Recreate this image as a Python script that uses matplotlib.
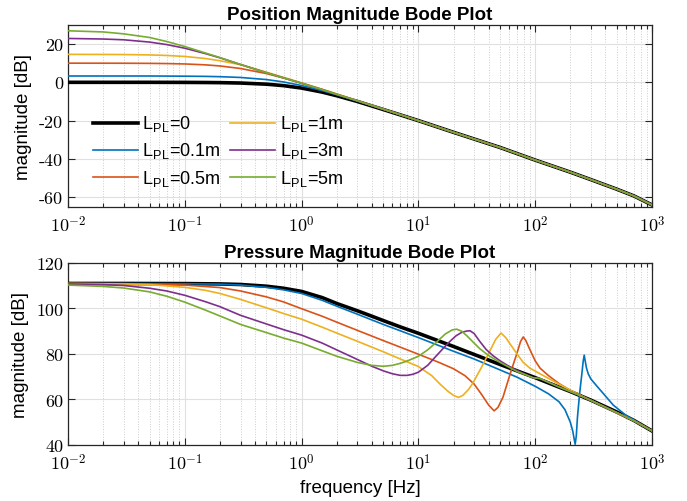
import numpy as np
import matplotlib
matplotlib.use('Agg')
import matplotlib.pyplot as plt
from matplotlib.ticker import FixedLocator, FixedFormatter, LogLocator, NullFormatter

plt.rcParams['font.family'] = ['Liberation Sans', 'DejaVu Sans']
plt.rcParams['mathtext.fontset'] = 'cm'

# ---- data ----
labels = ['0', '0.1m', '0.5m', '1m', '3m', '5m']
colors = ['#000000', '#0072BD', '#D95319', '#EDB120', '#7E2F8E', '#77AC30']

# position magnitude [dB], common frequency grid [Hz]
pos_freq = [0.01, 0.02, 0.03, 0.05, 0.07, 0.1, 0.15, 0.2, 0.3, 0.5, 0.7, 1, 1.5, 2, 3, 5, 7,
            10, 20, 50, 100, 200, 300, 500, 700, 1000]
pos_tail = [-20.0, -26.1, -34.0, -40.6, -46.9, -50.8, -55.8, -59.3, -64.0]
pos_L0 = [0.0, 0.0, 0.0, 0.0, -0.02, -0.04, -0.1, -0.17, -0.37, -0.97, -1.73, -3.0, -5.1, -7.0,
          -10.0, -14.2, -17.0] + pos_tail
pos_L01 = [3.3, 3.3, 3.3, 3.3, 3.25, 3.2, 3.1, 2.94, 2.54, 1.44, 0.19, -1.67, -4.34, -6.5,
           -9.76, -14.06, -16.94] + pos_tail
pos_L05 = [10.0, 9.98, 9.96, 9.89, 9.79, 9.59, 9.12, 8.54, 7.21, 4.56, 2.29, -0.42, -3.72, -6.13,
           -9.6, -14.0, -16.92] + pos_tail
pos_L1 = [14.6, 14.55, 14.49, 14.3, 14.02, 13.5, 12.43, 11.26, 9.2, 5.3, 2.6, -0.3, -3.6, -6.07,
          -9.57, -14.0, -16.9] + pos_tail
pos_L3 = [22.9, 22.6, 22.2, 21.0, 19.7, 17.8, 15.0, 12.8, 9.3, 5.0, 2.3, -0.5, -3.8, -6.3,
          -9.6, -14.0, -16.9] + pos_tail
pos_L5 = [26.9, 26.3, 25.3, 23.4, 21.3, 18.7, 15.3, 12.9, 9.3, 5.0, 2.3, -0.5, -3.8, -6.3,
          -9.6, -14.0, -16.9] + pos_tail
pos_data = [pos_L0, pos_L01, pos_L05, pos_L1, pos_L3, pos_L5]

# pressure magnitude [dB]
pr_f_L0 = [0.01, 0.03, 0.1, 0.2, 0.3, 0.5, 0.7, 1, 1.5, 2, 3, 4, 5, 7, 10, 20, 30, 50, 100, 150,
           200, 300, 500, 700, 1000]
pr_L0 = [111.0, 111.0, 110.95, 110.8, 110.55, 109.8, 108.9, 107.5, 104.8, 102.2, 99.0, 96.6, 94.7,
         91.9, 89.1, 83.3, 79.8, 75.4, 69.6, 66.0, 63.5, 59.7, 54.5, 50.8, 46.2]

pr_f_L01 = [0.01, 0.1, 0.2, 0.3, 0.5, 0.7, 1, 1.5, 2, 3, 5, 7, 10, 20, 30, 50, 70, 100, 130, 160,
            180, 200, 210, 215, 220, 225, 230, 240, 250, 258, 263, 268, 275, 285, 300, 336, 400,
            467, 600, 700, 1000]
pr_L01 = [111.0, 110.9, 110.7, 110.3, 109.3, 108.2, 106.6, 103.6, 101.0, 97.5, 93.0, 90.2, 87.2,
          81.2, 77.8, 73.0, 69.8, 65.8, 62.5, 59.0, 55.5, 50.0, 46.0, 43.0, 40.3, 44.0, 52.0, 62.5,
          70.5, 77.0, 79.5, 77.0, 73.8, 71.2, 69.0, 66.0, 61.5, 57.5, 53.0, 51.0, 46.2]

pr_f_L05 = [0.01, 0.03, 0.05, 0.1, 0.2, 0.3, 0.5, 0.7, 1, 1.5, 2, 3, 5, 7, 10, 15, 20, 25, 30, 35,
            40, 44.5, 48, 53, 60, 65, 70, 75, 79, 83, 90, 100, 110, 130, 160, 200, 240, 300, 500,
            700, 1000]
pr_L05 = [111.0, 110.9, 110.7, 110.3, 109.2, 107.7, 105.1, 102.9, 99.9, 96.6, 94.0, 90.4, 85.9,
          83.0, 79.9, 76.3, 73.5, 70.5, 66.8, 62.0, 57.5, 55.0, 56.5, 61.0, 70.0, 75.5, 80.5, 85.5,
          87.5, 86.0, 82.0, 77.0, 73.8, 70.5, 67.0, 64.0, 62.0, 59.6, 54.2, 50.7, 46.3]

pr_f_L1 = [0.01, 0.03, 0.05, 0.1, 0.15, 0.2, 0.3, 0.5, 0.7, 1, 1.5, 2, 3, 4, 5, 7, 10, 13, 15.3,
           18, 20, 22, 24, 27, 29.5, 35, 41, 46, 51, 56, 61, 70, 79, 90, 110, 163, 240, 300, 500,
           700, 1000]
pr_L1 = [110.95, 110.8, 110.5, 109.3, 108.0, 106.6, 104.0, 100.3, 97.8, 95.3, 91.8, 89.2, 85.6,
         83.0, 81.0, 77.8, 74.5, 70.5, 66.8, 63.5, 61.8, 60.9, 61.8, 64.5, 67.5, 74.5, 81.4, 86.5,
         89.2, 87.2, 84.4, 80.0, 76.3, 73.8, 71.3, 66.5, 62.0, 59.6, 54.2, 50.7, 46.2]

pr_f_L3 = [0.01, 0.02, 0.03, 0.05, 0.07, 0.1, 0.15, 0.2, 0.3, 0.5, 0.7, 1, 1.5, 2, 3, 4, 5, 6, 7, 8,
           9, 10, 12, 13.4, 16, 18.6, 21, 23.5, 26, 27.7, 30, 33.6, 38, 43.7, 50, 61, 75, 96, 110,
           160, 240, 300, 500, 700, 1000]
pr_L3 = [110.8, 110.5, 110.1, 108.9, 107.7, 105.8, 103.0, 100.8, 97.0, 93.2, 90.7, 88.3, 84.8,
         81.8, 77.6, 74.6, 72.6, 71.3, 70.6, 70.6, 71.1, 72.0, 75.0, 77.7, 82.0, 85.5, 88.0, 89.5,
         90.1, 90.2, 89.0, 85.5, 82.0, 79.2, 77.0, 74.3, 72.0, 69.5, 69.2, 65.5, 61.8, 59.6, 54.2,
         50.6, 46.2]

pr_f_L5 = [0.01, 0.02, 0.03, 0.05, 0.07, 0.1, 0.15, 0.2, 0.3, 0.5, 0.7, 1, 1.5, 2, 3, 4, 5, 6, 7, 8,
           10, 12, 14, 17, 19.5, 21.3, 23.5, 26, 30, 33.6, 40, 50, 70, 96, 110, 160, 240, 300, 500,
           700, 1000]
pr_L5 = [110.3, 109.7, 109.0, 107.3, 105.4, 102.8, 99.3, 96.7, 93.0, 89.4, 87.0, 84.8, 81.4, 79.0,
         76.3, 75.0, 74.6, 75.0, 75.9, 76.9, 79.0, 81.8, 84.8, 88.8, 90.6, 90.9, 90.0, 88.0, 84.8,
         82.3, 79.3, 76.3, 72.3, 69.6, 69.2, 65.5, 61.8, 59.6, 54.2, 50.6, 46.2]

pr_freqs = [pr_f_L0, pr_f_L01, pr_f_L05, pr_f_L1, pr_f_L3, pr_f_L5]
pr_data = [pr_L0, pr_L01, pr_L05, pr_L1, pr_L3, pr_L5]

x_ticks = [1e-2, 1e-1, 1e0, 1e1, 1e2, 1e3]
x_ticklabels = [r'$10^{-2}$', r'$10^{-1}$', r'$10^{0}$', r'$10^{1}$', r'$10^{2}$', r'$10^{3}$']
pos_yticks = [-60, -40, -20, 0, 20]
pr_yticks = [40, 60, 80, 100, 120]


def style_axes(ax, yticks, ylim):
    ax.set_xscale('log')
    ax.set_xlim(1e-2, 1e3)
    ax.set_ylim(*ylim)
    ax.xaxis.set_major_locator(FixedLocator(x_ticks))
    ax.xaxis.set_major_formatter(FixedFormatter(x_ticklabels))
    ax.xaxis.set_minor_locator(LogLocator(base=10, subs=np.arange(2, 10), numticks=20))
    ax.xaxis.set_minor_formatter(NullFormatter())
    ax.yaxis.set_major_locator(FixedLocator(yticks))
    ax.set_yticklabels([str(v) for v in yticks], fontfamily='cmr10')
    ax.grid(True, which='major', color='#e0e0e0', lw=0.8, ls='-')
    ax.grid(True, which='minor', axis='x', color='#cccccc', lw=0.7, ls=':')
    ax.set_axisbelow(True)
    ax.tick_params(which='both', direction='in', top=True, right=True, colors='#262626',
                   labelcolor='black', labelsize=13, width=0.8)
    ax.tick_params(which='major', length=5)
    ax.tick_params(which='minor', length=3)
    ax.tick_params(axis='x', which='major', pad=6)
    for s in ax.spines.values():
        s.set_color('#262626')
        s.set_linewidth(0.9)
    ax.set_ylabel('magnitude [dB]', fontsize=13.5, labelpad=5)


fig = plt.figure(figsize=(6.87, 5.02), dpi=100)
ax1 = fig.add_axes([0.099, 0.586, 0.850, 0.3625])
ax2 = fig.add_axes([0.099, 0.1116, 0.850, 0.3625])

for i, (lab, col) in enumerate(zip(labels, colors)):
    lw = 2.6 if i == 0 else 1.2
    ax1.plot(pos_freq, pos_data[i], color=col, lw=lw, label=r'L$_{\mathregular{PL}}$=' + lab,
             zorder=3 if i == 0 else 4)
    ax2.plot(pr_freqs[i], pr_data[i], color=col, lw=lw, zorder=3 if i == 0 else 4)

style_axes(ax1, pos_yticks, (-65, 30))
style_axes(ax2, pr_yticks, (40, 120))

ax1.set_title('Position Magnitude Bode Plot', fontsize=13.5, fontweight='bold', pad=4)
ax2.set_title('Pressure Magnitude Bode Plot', fontsize=13.5, fontweight='bold', pad=4)
ax2.set_xlabel('frequency [Hz]', fontsize=13.5, labelpad=4)

ax1.legend(loc='lower left', bbox_to_anchor=(0.042, 0.10), ncol=2, frameon=False,
           fontsize=13, handlelength=2.5, handletextpad=0.25, columnspacing=0.5,
           labelspacing=0.4, borderpad=0, borderaxespad=0)

fig.savefig('out.png', dpi=100)
